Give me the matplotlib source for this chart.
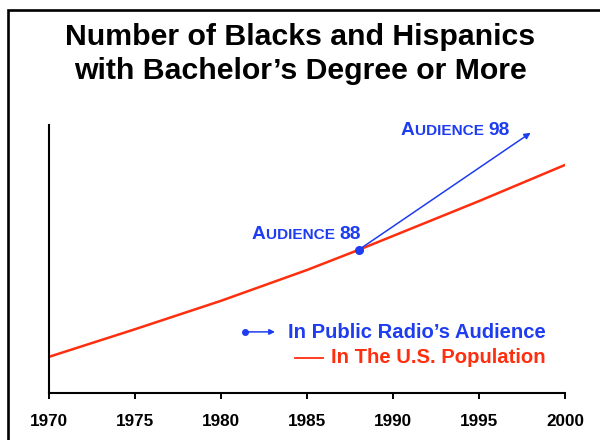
import numpy as np
import matplotlib
matplotlib.use('Agg')
import matplotlib.pyplot as plt
from matplotlib.patches import Rectangle
from matplotlib.transforms import IdentityTransform

plt.rcParams['font.family'] = ['Liberation Sans', 'DejaVu Sans']
plt.rcParams['font.weight'] = 'bold'

# data (index, no y scale shown)
years = [1970, 1975, 1980, 1985, 1988, 1990, 1995, 2000]
us_population = [13.5, 23.8, 34.4, 45.9, 53.4, 58.6, 71.6, 85.1]
audience_years = [1988, 1998]
audience_values = [53.4, 97.1]
tick_years = [1970, 1975, 1980, 1985, 1990, 1995, 2000]

blue = '#1e3cf0'
red = '#ff2e0e'

fig = plt.figure(figsize=(6, 4.4), dpi=100)
W, H = 600, 440
ax = fig.add_axes([49 / W, 1 - 393 / H, 516 / W, 268 / H])

# frame round the slide
fig.patches.append(Rectangle((8 / W, -0.1), 1.2, 1 - 10 / H + 0.1, transform=fig.transFigure,
                             fill=False, lw=1.9, ec='black'))

fig.text(0.5, 1 - 45 / H, 'Number of Blacks and Hispanics', ha='center', va='baseline',
         fontsize=21.8, fontweight='bold')
fig.text(0.5, 1 - 79 / H, 'with Bachelor\u2019s Degree or More', ha='center', va='baseline',
         fontsize=21.8, fontweight='bold')

ax.plot(years, us_population, color=red, lw=1.8, solid_capstyle='round')
ax.annotate('', xy=(audience_years[1], audience_values[1]),
            xytext=(audience_years[0], audience_values[0]),
            arrowprops=dict(arrowstyle='-|>', color=blue, lw=1.1, mutation_scale=9,
                            shrinkA=0, shrinkB=0), annotation_clip=False)
ax.plot(audience_years[0], audience_values[0], 'o', color=blue, ms=5.5, zorder=5)

ax.set_xlim(1970, 2000)
ax.set_ylim(0, 100)
ax.set_xticks(tick_years)
ax.set_xticklabels([str(t) for t in tick_years], fontsize=12.3, fontweight='bold')
ax.set_yticks([])
ax.tick_params(axis='x', direction='out', length=4.5, width=1.4, pad=10.5)
for s in ['top', 'right']:
    ax.spines[s].set_visible(False)
for s in ['left', 'bottom']:
    ax.spines[s].set_linewidth(1.5)

renderer = fig.canvas.get_renderer()


def small_caps(x, y, parts, color):
    # parts: (text, size) pieces, drawn left to right in pixel coords
    for txt, size in parts:
        t = fig.text(x, H - y, txt, fontsize=size, fontweight='bold', color=color,
                     ha='left', va='baseline', transform=IdentityTransform())
        x = t.get_window_extent(renderer).x1


small_caps(401, 135, [('A', 13.8), ('UDIENCE ', 11.1), ('98', 13.8)], blue)
small_caps(252, 239, [('A', 13.8), ('UDIENCE ', 11.1), ('88', 13.8)], blue)

# legend built by hand
ax.text(0.963, 0.204, 'In Public Radio\u2019s Audience', transform=ax.transAxes, ha='right',
        va='baseline', fontsize=14.6, fontweight='bold', color=blue)
ax.text(0.963, 0.111, 'In The U.S. Population', transform=ax.transAxes, ha='right',
        va='baseline', fontsize=14.6, fontweight='bold', color=red)
ax.plot([0.380], [0.228], 'o', color=blue, ms=4, transform=ax.transAxes, clip_on=False)
ax.annotate('', xy=(0.438, 0.228), xytext=(0.380, 0.228), xycoords='axes fraction',
            arrowprops=dict(arrowstyle='-|>', color=blue, lw=1.1, mutation_scale=8,
                            shrinkA=0, shrinkB=0))
ax.plot([0.477, 0.531], [0.132, 0.132], color=red, lw=1.3, transform=ax.transAxes, clip_on=False)

fig.savefig('out.png', dpi=100)
